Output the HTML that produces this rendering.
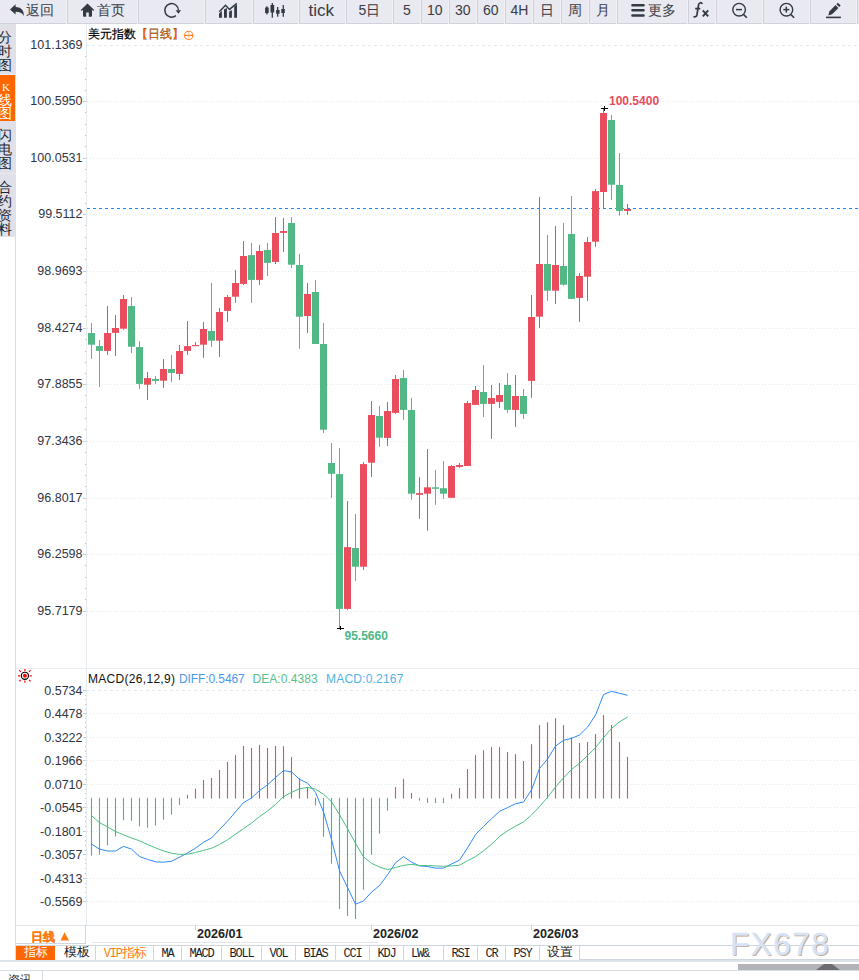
<!DOCTYPE html>
<html><head><meta charset="utf-8">
<style>
*{margin:0;padding:0;box-sizing:border-box}
html,body{width:859px;height:980px;overflow:hidden;background:#fff;font-family:"Liberation Sans",sans-serif;color:#333}
#tb{position:absolute;left:0;top:0;width:859px;height:24px;background:#fff}
.b{position:absolute;top:0;height:24px;background:#e9e9f1;border-bottom:1px solid #d2d2da;border-left:1px solid #d3d3db;color:#3a3c44;font-size:13px;line-height:22px;text-align:center;white-space:nowrap}
.tl{position:absolute;top:0;line-height:21px;color:#3a3c44;white-space:nowrap}
#sb{position:absolute;left:0;top:24px;width:16px;height:213px;background:#dfe0e8;overflow:hidden}
.si{position:absolute;left:0;width:15px;font-size:14px;line-height:14px;color:#1d2530}
.si span{display:block;margin-left:-2px;width:14px;text-align:center}
svg#ch{position:absolute;left:0;top:0}
.ax{font-size:12.5px;text-anchor:end;fill:#2f3546}
.hl{font-size:12px;font-weight:bold}
.dt{font-size:12.6px;font-weight:bold;fill:#222}
#title{position:absolute;left:88px;top:27px;font-size:12px;line-height:14px;color:#000;-webkit-text-stroke:0.2px #000;white-space:nowrap}
.mt{position:absolute;top:672px;font-size:12px;line-height:14px;white-space:nowrap;color:#111}
#bt{position:absolute;left:16px;top:945px;height:16px;width:843px}
.t{position:absolute;top:0;height:16px;overflow:hidden;border-right:1px solid #cfd6de;border-bottom:1px solid #cfd6de;text-align:center;color:#222;white-space:nowrap}
.mo{font-family:"Liberation Mono",monospace;font-size:12px;letter-spacing:-1.2px;line-height:19px;color:#1a1f2a}
.cj{font-size:12.5px;line-height:15px}
</style></head><body>
<div id="tb">
<svg width="859" height="24" style="position:absolute;left:0;top:0" viewBox="0 0 859 24">
<rect x="0" y="0" width="859" height="23" fill="#e9e9f1"/>
<rect x="0" y="23" width="859" height="1" fill="#d1d1d9"/>
<rect x="66" y="0" width="1" height="24" fill="#f1f1f5"/>
<rect x="67" y="0" width="1" height="24" fill="#d0d0d8"/>
<rect x="137" y="0" width="1" height="24" fill="#f1f1f5"/>
<rect x="138" y="0" width="1" height="24" fill="#d0d0d8"/>
<rect x="204" y="0" width="1" height="24" fill="#f1f1f5"/>
<rect x="205" y="0" width="1" height="24" fill="#d0d0d8"/>
<rect x="252" y="0" width="1" height="24" fill="#f1f1f5"/>
<rect x="253" y="0" width="1" height="24" fill="#d0d0d8"/>
<rect x="298" y="0" width="1" height="24" fill="#f1f1f5"/>
<rect x="299" y="0" width="1" height="24" fill="#d0d0d8"/>
<rect x="345" y="0" width="1" height="24" fill="#f1f1f5"/>
<rect x="346" y="0" width="1" height="24" fill="#d0d0d8"/>
<rect x="392" y="0" width="1" height="24" fill="#f1f1f5"/>
<rect x="393" y="0" width="1" height="24" fill="#d0d0d8"/>
<rect x="420" y="0" width="1" height="24" fill="#f1f1f5"/>
<rect x="421" y="0" width="1" height="24" fill="#d0d0d8"/>
<rect x="448" y="0" width="1" height="24" fill="#f1f1f5"/>
<rect x="449" y="0" width="1" height="24" fill="#d0d0d8"/>
<rect x="476" y="0" width="1" height="24" fill="#f1f1f5"/>
<rect x="477" y="0" width="1" height="24" fill="#d0d0d8"/>
<rect x="504" y="0" width="1" height="24" fill="#f1f1f5"/>
<rect x="505" y="0" width="1" height="24" fill="#d0d0d8"/>
<rect x="532" y="0" width="1" height="24" fill="#f1f1f5"/>
<rect x="533" y="0" width="1" height="24" fill="#d0d0d8"/>
<rect x="560" y="0" width="1" height="24" fill="#f1f1f5"/>
<rect x="561" y="0" width="1" height="24" fill="#d0d0d8"/>
<rect x="588" y="0" width="1" height="24" fill="#f1f1f5"/>
<rect x="589" y="0" width="1" height="24" fill="#d0d0d8"/>
<rect x="616" y="0" width="1" height="24" fill="#f1f1f5"/>
<rect x="617" y="0" width="1" height="24" fill="#d0d0d8"/>
<rect x="687" y="0" width="1" height="24" fill="#f1f1f5"/>
<rect x="688" y="0" width="1" height="24" fill="#d0d0d8"/>
<rect x="715" y="0" width="1" height="24" fill="#f1f1f5"/>
<rect x="716" y="0" width="1" height="24" fill="#d0d0d8"/>
<rect x="762" y="0" width="1" height="24" fill="#f1f1f5"/>
<rect x="763" y="0" width="1" height="24" fill="#d0d0d8"/>
<rect x="809" y="0" width="1" height="24" fill="#f1f1f5"/>
<rect x="810" y="0" width="1" height="24" fill="#d0d0d8"/>
<rect x="856" y="0" width="1" height="24" fill="#f1f1f5"/>
<rect x="857" y="0" width="1" height="24" fill="#d0d0d8"/>
<path d="M10 9.4 L15.6 4.2 V7.1 C20.5 7.1 24.2 10 23.8 16 C22.3 12.8 19.8 11.7 15.6 11.7 V14.6 Z" fill="#333a44"/>
<path d="M87.5 3.6 L94.2 10 L93.3 10.9 L92 9.7 V15.8 Q92 16.8 91 16.8 H88.8 V12.6 H86.2 V16.8 H84 Q83 16.8 83 15.8 V9.7 L81.7 10.9 L80.8 10 Z" fill="#333a44"/>
<path d="M178.4 10.3 A6.8 6.8 0 1 0 175.9 15.6" fill="none" stroke="#333a44" stroke-width="1.5"/>
<path d="M175.6 10.2 H181.1 L178.4 13.8 Z" fill="#333a44"/>
<path d="M219 13.6 L221.9 11 V17.8 H219 Z M224 9.5 L226.9 8 V17.8 H224 Z M229.1 11.7 L231.9 10 V17.8 H229.1 Z M234.2 6.6 L237 4.4 V17.8 H234.2 Z" fill="#333a44"/>
<path d="M219.3 11.7 L225.5 5.3 L229.5 9.4 L236.8 3.3" fill="none" stroke="#333a44" stroke-width="1.5"/>
<path d="M266.9 6.2V14.4M272.3 3.1V17.8M277.7 7V16.8M283.3 5V16.8" stroke="#333a44" stroke-width="1.3"/>
<path d="M265.1 7.6h3.6v5.4h-3.6zM270.5 5h3.7v7.6h-3.7zM276.1 10h3.5v3.8h-3.5zM281.3 9.1h3.5v3.8h-3.5z" fill="#333a44"/>
<path d="M632.4 5.2H643.6M632.4 10.3H643.6M632.4 15.5H643.6" stroke="#333a44" stroke-width="2.4" stroke-linecap="round"/>
<path d="M702.2 4 C701.6 2.3 699.3 2.1 698.6 4.6 L696.9 15 C696.5 16.9 694.6 17.2 693.5 16.3 M695.2 8.6 H700.3" fill="none" stroke="#333a44" stroke-width="1.7"/>
<path d="M702.8 10.3 L708.2 16.4 M708.2 10.3 L702.8 16.4" stroke="#333a44" stroke-width="1.9"/>
<circle cx="739.1" cy="9.7" r="6.3" fill="none" stroke="#333a44" stroke-width="1.4"/>
<path d="M736.0 9.6H742.0" stroke="#333a44" stroke-width="1.5"/>
<path d="M743.7 14.6L746.8000000000001 17.7" stroke="#333a44" stroke-width="1.6"/>
<circle cx="786.4" cy="9.7" r="6.3" fill="none" stroke="#333a44" stroke-width="1.4"/>
<path d="M783.3 9.6H789.3" stroke="#333a44" stroke-width="1.5"/>
<path d="M786.3 6.6V12.6" stroke="#333a44" stroke-width="1.5"/>
<path d="M791.0 14.6L794.1 17.7" stroke="#333a44" stroke-width="1.6"/>
<path d="M828.3 15.4 L829.3 11.4 L835.6 5.1 L838.4 7.9 L832.1 14.2 Z" fill="#333a44"/>
<path d="M836.4 4.3 L837.9 2.8 L840.7 5.6 L839.2 7.1 Z" fill="#333a44"/>
<path d="M826 17.4H840.9" stroke="#333a44" stroke-width="1.6"/>
</svg>
<span class="tl" style="left:25.5px;font-size:14px;">返回</span>
<span class="tl" style="left:96.5px;font-size:14px;">首页</span>
<span class="tl" style="left:308.5px;font-size:17px;">tick</span>
<span class="tl" style="left:358.5px;font-size:14px;">5日</span>
<span class="tl" style="left:403px;font-size:14px;">5</span>
<span class="tl" style="left:427px;font-size:14px;">10</span>
<span class="tl" style="left:455px;font-size:14px;">30</span>
<span class="tl" style="left:483px;font-size:14px;">60</span>
<span class="tl" style="left:510.5px;font-size:14px;">4H</span>
<span class="tl" style="left:540px;font-size:14px;">日</span>
<span class="tl" style="left:567.5px;font-size:14px;">周</span>
<span class="tl" style="left:595.5px;font-size:14px;">月</span>
<span class="tl" style="left:647.5px;font-size:14px;">更多</span>
</div>
<div id="sb">
 <div class="si" style="top:6px"><span>分</span><span>时</span><span>图</span></div>
 <div style="position:absolute;left:0;top:50px;width:16px;height:1px;background:#e6eef8"></div>
 <div style="position:absolute;left:0;top:51px;width:15px;height:46px;background:#ff6600"></div>
 <div class="si" style="top:57px;color:#fff;line-height:13px"><span style="font-family:'Liberation Serif',serif;font-size:11px;margin-left:0;width:12px">K</span><span>线</span><span>图</span></div>
 <div style="position:absolute;left:0;top:149px;width:16px;height:1px;background:#e9eaf0"></div>
 <div class="si" style="top:104px"><span>闪</span><span>电</span><span>图</span></div>
 <div class="si" style="top:156px"><span>合</span><span>约</span><span>资</span><span>料</span></div>
</div>
<svg id="ch" width="859" height="980" viewBox="0 0 859 980">
<style>text{font-family:"Liberation Sans",sans-serif}</style>
<line x1="86" y1="45.5" x2="859" y2="45.5" stroke="#e0e8f0" stroke-dasharray="3 3"/>
<text x="82.5" y="49.1" class="ax">101.1369</text>
<line x1="85" y1="56.5" x2="86" y2="56.5" stroke="#b8bdc4"/>
<line x1="85" y1="68.5" x2="86" y2="68.5" stroke="#b8bdc4"/>
<line x1="85" y1="79.5" x2="86" y2="79.5" stroke="#b8bdc4"/>
<line x1="85" y1="90.5" x2="86" y2="90.5" stroke="#b8bdc4"/>
<line x1="87" y1="101.5" x2="859" y2="101.5" stroke="#e4e9ef" stroke-dasharray="1 2"/>
<line x1="83" y1="101.5" x2="86" y2="101.5" stroke="#c8ccd2"/>
<text x="82.5" y="105.1" class="ax">100.5950</text>
<line x1="85" y1="112.5" x2="86" y2="112.5" stroke="#b8bdc4"/>
<line x1="85" y1="124.5" x2="86" y2="124.5" stroke="#b8bdc4"/>
<line x1="85" y1="135.5" x2="86" y2="135.5" stroke="#b8bdc4"/>
<line x1="85" y1="146.5" x2="86" y2="146.5" stroke="#b8bdc4"/>
<line x1="87" y1="158.5" x2="859" y2="158.5" stroke="#e4e9ef" stroke-dasharray="1 2"/>
<line x1="83" y1="158.5" x2="86" y2="158.5" stroke="#c8ccd2"/>
<text x="82.5" y="162.1" class="ax">100.0531</text>
<line x1="85" y1="169.5" x2="86" y2="169.5" stroke="#b8bdc4"/>
<line x1="85" y1="181.5" x2="86" y2="181.5" stroke="#b8bdc4"/>
<line x1="85" y1="192.5" x2="86" y2="192.5" stroke="#b8bdc4"/>
<line x1="85" y1="203.5" x2="86" y2="203.5" stroke="#b8bdc4"/>
<line x1="87" y1="214.5" x2="859" y2="214.5" stroke="#e4e9ef" stroke-dasharray="1 2"/>
<line x1="83" y1="214.5" x2="86" y2="214.5" stroke="#c8ccd2"/>
<text x="82.5" y="218.1" class="ax">99.5112</text>
<line x1="85" y1="225.5" x2="86" y2="225.5" stroke="#b8bdc4"/>
<line x1="85" y1="237.5" x2="86" y2="237.5" stroke="#b8bdc4"/>
<line x1="85" y1="248.5" x2="86" y2="248.5" stroke="#b8bdc4"/>
<line x1="85" y1="259.5" x2="86" y2="259.5" stroke="#b8bdc4"/>
<line x1="87" y1="271.5" x2="859" y2="271.5" stroke="#e4e9ef" stroke-dasharray="1 2"/>
<line x1="83" y1="271.5" x2="86" y2="271.5" stroke="#c8ccd2"/>
<text x="82.5" y="275.1" class="ax">98.9693</text>
<line x1="85" y1="282.5" x2="86" y2="282.5" stroke="#b8bdc4"/>
<line x1="85" y1="294.5" x2="86" y2="294.5" stroke="#b8bdc4"/>
<line x1="85" y1="305.5" x2="86" y2="305.5" stroke="#b8bdc4"/>
<line x1="85" y1="316.5" x2="86" y2="316.5" stroke="#b8bdc4"/>
<line x1="87" y1="328.5" x2="859" y2="328.5" stroke="#e4e9ef" stroke-dasharray="1 2"/>
<line x1="83" y1="328.5" x2="86" y2="328.5" stroke="#c8ccd2"/>
<text x="82.5" y="332.1" class="ax">98.4274</text>
<line x1="85" y1="339.5" x2="86" y2="339.5" stroke="#b8bdc4"/>
<line x1="85" y1="351.5" x2="86" y2="351.5" stroke="#b8bdc4"/>
<line x1="85" y1="362.5" x2="86" y2="362.5" stroke="#b8bdc4"/>
<line x1="85" y1="373.5" x2="86" y2="373.5" stroke="#b8bdc4"/>
<line x1="87" y1="384.5" x2="859" y2="384.5" stroke="#e4e9ef" stroke-dasharray="1 2"/>
<line x1="83" y1="384.5" x2="86" y2="384.5" stroke="#c8ccd2"/>
<text x="82.5" y="388.1" class="ax">97.8855</text>
<line x1="85" y1="395.5" x2="86" y2="395.5" stroke="#b8bdc4"/>
<line x1="85" y1="407.5" x2="86" y2="407.5" stroke="#b8bdc4"/>
<line x1="85" y1="418.5" x2="86" y2="418.5" stroke="#b8bdc4"/>
<line x1="85" y1="429.5" x2="86" y2="429.5" stroke="#b8bdc4"/>
<line x1="87" y1="441.5" x2="859" y2="441.5" stroke="#e4e9ef" stroke-dasharray="1 2"/>
<line x1="83" y1="441.5" x2="86" y2="441.5" stroke="#c8ccd2"/>
<text x="82.5" y="445.1" class="ax">97.3436</text>
<line x1="85" y1="452.5" x2="86" y2="452.5" stroke="#b8bdc4"/>
<line x1="85" y1="464.5" x2="86" y2="464.5" stroke="#b8bdc4"/>
<line x1="85" y1="475.5" x2="86" y2="475.5" stroke="#b8bdc4"/>
<line x1="85" y1="486.5" x2="86" y2="486.5" stroke="#b8bdc4"/>
<line x1="87" y1="498.5" x2="859" y2="498.5" stroke="#e4e9ef" stroke-dasharray="1 2"/>
<line x1="83" y1="498.5" x2="86" y2="498.5" stroke="#c8ccd2"/>
<text x="82.5" y="502.1" class="ax">96.8017</text>
<line x1="85" y1="509.5" x2="86" y2="509.5" stroke="#b8bdc4"/>
<line x1="85" y1="521.5" x2="86" y2="521.5" stroke="#b8bdc4"/>
<line x1="85" y1="532.5" x2="86" y2="532.5" stroke="#b8bdc4"/>
<line x1="85" y1="543.5" x2="86" y2="543.5" stroke="#b8bdc4"/>
<line x1="87" y1="554.5" x2="859" y2="554.5" stroke="#e4e9ef" stroke-dasharray="1 2"/>
<line x1="83" y1="554.5" x2="86" y2="554.5" stroke="#c8ccd2"/>
<text x="82.5" y="558.1" class="ax">96.2598</text>
<line x1="85" y1="565.5" x2="86" y2="565.5" stroke="#b8bdc4"/>
<line x1="85" y1="577.5" x2="86" y2="577.5" stroke="#b8bdc4"/>
<line x1="85" y1="588.5" x2="86" y2="588.5" stroke="#b8bdc4"/>
<line x1="85" y1="599.5" x2="86" y2="599.5" stroke="#b8bdc4"/>
<line x1="87" y1="611.5" x2="859" y2="611.5" stroke="#e4e9ef" stroke-dasharray="1 2"/>
<line x1="83" y1="611.5" x2="86" y2="611.5" stroke="#c8ccd2"/>
<text x="82.5" y="615.1" class="ax">95.7179</text>
<line x1="86.5" y1="24" x2="86.5" y2="925" stroke="#e6ebf1"/>
<line x1="87" y1="208.5" x2="859" y2="208.5" stroke="#1e88ff" stroke-dasharray="3 3"/>
<rect x="91" y="323.1" width="1" height="35.8" fill="#52b886"/>
<rect x="88" y="333.0" width="7" height="11.7" fill="#52b886"/>
<rect x="99" y="340.0" width="1" height="46.9" fill="#52b886"/>
<rect x="96" y="346.1" width="7" height="4.8" fill="#52b886"/>
<rect x="107" y="306.0" width="1" height="48.9" fill="#e94d5e"/>
<rect x="104" y="333.0" width="7" height="17.9" fill="#e94d5e"/>
<rect x="115" y="315.0" width="1" height="40.9" fill="#e94d5e"/>
<rect x="112" y="328.0" width="7" height="4.9" fill="#e94d5e"/>
<rect x="123" y="295.0" width="1" height="34.7" fill="#e94d5e"/>
<rect x="120" y="299.0" width="7" height="29.7" fill="#e94d5e"/>
<rect x="131" y="297.0" width="1" height="55.9" fill="#52b886"/>
<rect x="128" y="306.0" width="7" height="40.7" fill="#52b886"/>
<rect x="139" y="341.0" width="1" height="47.9" fill="#52b886"/>
<rect x="136" y="347.1" width="7" height="36.8" fill="#52b886"/>
<rect x="147" y="372.0" width="1" height="27.9" fill="#e94d5e"/>
<rect x="144" y="378.1" width="7" height="6.6" fill="#e94d5e"/>
<rect x="155" y="375.9" width="1" height="8.0" fill="#52b886"/>
<rect x="152" y="379.0" width="7" height="1.9" fill="#52b886"/>
<rect x="163" y="359.1" width="1" height="28.8" fill="#e94d5e"/>
<rect x="160" y="369.0" width="7" height="11.7" fill="#e94d5e"/>
<rect x="171" y="355.1" width="1" height="26.8" fill="#52b886"/>
<rect x="168" y="369.0" width="7" height="3.9" fill="#52b886"/>
<rect x="179" y="345.0" width="1" height="34.9" fill="#e94d5e"/>
<rect x="176" y="351.0" width="7" height="22.9" fill="#e94d5e"/>
<rect x="187" y="321.0" width="1" height="33.9" fill="#e94d5e"/>
<rect x="184" y="346.1" width="7" height="4.8" fill="#e94d5e"/>
<rect x="195" y="342.0" width="1" height="3.9" fill="#e94d5e"/>
<rect x="192" y="345.0" width="7" height="1.2" fill="#e94d5e"/>
<rect x="203" y="322.0" width="1" height="35.9" fill="#e94d5e"/>
<rect x="200" y="329.0" width="7" height="15.7" fill="#e94d5e"/>
<rect x="211" y="283.0" width="1" height="63.9" fill="#52b886"/>
<rect x="208" y="331.0" width="7" height="9.7" fill="#52b886"/>
<rect x="219" y="308.0" width="1" height="48.9" fill="#e94d5e"/>
<rect x="216" y="312.0" width="7" height="28.7" fill="#e94d5e"/>
<rect x="227" y="295.0" width="1" height="27.0" fill="#e94d5e"/>
<rect x="224" y="297.0" width="7" height="13.9" fill="#e94d5e"/>
<rect x="235" y="270.0" width="1" height="32.9" fill="#e94d5e"/>
<rect x="232" y="283.0" width="7" height="13.7" fill="#e94d5e"/>
<rect x="243" y="241.0" width="1" height="43.9" fill="#e94d5e"/>
<rect x="240" y="256.0" width="7" height="27.9" fill="#e94d5e"/>
<rect x="251" y="243.0" width="1" height="59.9" fill="#52b886"/>
<rect x="248" y="255.1" width="7" height="24.8" fill="#52b886"/>
<rect x="259" y="245.0" width="1" height="39.9" fill="#e94d5e"/>
<rect x="256" y="251.0" width="7" height="28.9" fill="#e94d5e"/>
<rect x="267" y="243.0" width="1" height="33.0" fill="#52b886"/>
<rect x="264" y="250.0" width="7" height="12.9" fill="#52b886"/>
<rect x="275" y="217.0" width="1" height="47.0" fill="#e94d5e"/>
<rect x="272" y="233.0" width="7" height="28.9" fill="#e94d5e"/>
<rect x="283" y="218.0" width="1" height="34.0" fill="#e94d5e"/>
<rect x="280" y="231.0" width="7" height="1.9" fill="#e94d5e"/>
<rect x="291" y="217.0" width="1" height="51.0" fill="#52b886"/>
<rect x="288" y="223.0" width="7" height="41.7" fill="#52b886"/>
<rect x="299" y="254.0" width="1" height="94.7" fill="#52b886"/>
<rect x="296" y="265.0" width="7" height="51.7" fill="#52b886"/>
<rect x="307" y="283.0" width="1" height="49.9" fill="#e94d5e"/>
<rect x="304" y="294.0" width="7" height="22.0" fill="#e94d5e"/>
<rect x="315" y="280.0" width="1" height="64.0" fill="#52b886"/>
<rect x="312" y="292.0" width="7" height="52.0" fill="#52b886"/>
<rect x="323" y="323.0" width="1" height="109.9" fill="#52b886"/>
<rect x="320" y="344.0" width="7" height="85.7" fill="#52b886"/>
<rect x="331" y="443.0" width="1" height="54.9" fill="#52b886"/>
<rect x="328" y="463.0" width="7" height="10.8" fill="#52b886"/>
<rect x="339" y="448.0" width="1" height="180.7" fill="#52b886"/>
<rect x="336" y="474.1" width="7" height="134.8" fill="#52b886"/>
<rect x="347" y="501.1" width="1" height="108.7" fill="#e94d5e"/>
<rect x="344" y="547.1" width="7" height="61.8" fill="#e94d5e"/>
<rect x="355" y="514.0" width="1" height="66.9" fill="#52b886"/>
<rect x="352" y="548.0" width="7" height="18.7" fill="#52b886"/>
<rect x="363" y="462.0" width="1" height="107.9" fill="#e94d5e"/>
<rect x="360" y="464.1" width="7" height="102.6" fill="#e94d5e"/>
<rect x="371" y="401.0" width="1" height="76.0" fill="#e94d5e"/>
<rect x="368" y="415.0" width="7" height="47.7" fill="#e94d5e"/>
<rect x="379" y="406.0" width="1" height="40.7" fill="#52b886"/>
<rect x="376" y="416.0" width="7" height="21.7" fill="#52b886"/>
<rect x="387" y="402.0" width="1" height="43.9" fill="#e94d5e"/>
<rect x="384" y="411.0" width="7" height="26.9" fill="#e94d5e"/>
<rect x="395" y="375.0" width="1" height="38.9" fill="#e94d5e"/>
<rect x="392" y="379.0" width="7" height="33.9" fill="#e94d5e"/>
<rect x="403" y="370.0" width="1" height="49.9" fill="#52b886"/>
<rect x="400" y="378.0" width="7" height="31.9" fill="#52b886"/>
<rect x="411" y="398.0" width="1" height="101.9" fill="#52b886"/>
<rect x="408" y="410.0" width="7" height="83.7" fill="#52b886"/>
<rect x="419" y="477.2" width="1" height="41.7" fill="#e94d5e"/>
<rect x="416" y="493.1" width="7" height="1.7" fill="#e94d5e"/>
<rect x="427" y="449.0" width="1" height="81.8" fill="#e94d5e"/>
<rect x="424" y="487.3" width="7" height="6.4" fill="#e94d5e"/>
<rect x="435" y="470.0" width="1" height="34.8" fill="#52b886"/>
<rect x="432" y="487.3" width="7" height="1.5" fill="#52b886"/>
<rect x="443" y="461.0" width="1" height="37.8" fill="#52b886"/>
<rect x="440" y="488.2" width="7" height="5.5" fill="#52b886"/>
<rect x="451" y="465.0" width="1" height="32.8" fill="#e94d5e"/>
<rect x="448" y="466.0" width="7" height="31.8" fill="#e94d5e"/>
<rect x="459" y="463.0" width="1" height="4.9" fill="#e94d5e"/>
<rect x="456" y="465.0" width="7" height="1.9" fill="#e94d5e"/>
<rect x="467" y="401.0" width="1" height="65.0" fill="#e94d5e"/>
<rect x="464" y="403.0" width="7" height="63.0" fill="#e94d5e"/>
<rect x="475" y="386.0" width="1" height="18.9" fill="#e94d5e"/>
<rect x="472" y="390.0" width="7" height="14.9" fill="#e94d5e"/>
<rect x="483" y="365.0" width="1" height="51.9" fill="#52b886"/>
<rect x="480" y="392.0" width="7" height="11.9" fill="#52b886"/>
<rect x="491" y="385.0" width="1" height="53.9" fill="#e94d5e"/>
<rect x="488" y="398.0" width="7" height="5.9" fill="#e94d5e"/>
<rect x="499" y="383.0" width="1" height="25.0" fill="#e94d5e"/>
<rect x="496" y="395.0" width="7" height="6.9" fill="#e94d5e"/>
<rect x="507" y="373.0" width="1" height="39.9" fill="#52b886"/>
<rect x="504" y="385.0" width="7" height="24.9" fill="#52b886"/>
<rect x="515" y="375.0" width="1" height="51.9" fill="#e94d5e"/>
<rect x="512" y="396.0" width="7" height="13.9" fill="#e94d5e"/>
<rect x="523" y="389.0" width="1" height="29.9" fill="#52b886"/>
<rect x="520" y="396.0" width="7" height="17.9" fill="#52b886"/>
<rect x="531" y="295.0" width="1" height="102.9" fill="#e94d5e"/>
<rect x="528" y="317.0" width="7" height="63.9" fill="#e94d5e"/>
<rect x="539" y="197.0" width="1" height="131.0" fill="#e94d5e"/>
<rect x="536" y="264.0" width="7" height="52.6" fill="#e94d5e"/>
<rect x="547" y="235.0" width="1" height="65.7" fill="#52b886"/>
<rect x="544" y="264.0" width="7" height="26.7" fill="#52b886"/>
<rect x="555" y="226.0" width="1" height="77.9" fill="#e94d5e"/>
<rect x="552" y="265.0" width="7" height="25.7" fill="#e94d5e"/>
<rect x="563" y="223.0" width="1" height="62.7" fill="#52b886"/>
<rect x="560" y="266.0" width="7" height="18.7" fill="#52b886"/>
<rect x="571" y="196.0" width="1" height="102.9" fill="#52b886"/>
<rect x="568" y="234.0" width="7" height="64.9" fill="#52b886"/>
<rect x="579" y="273.0" width="1" height="49.0" fill="#e94d5e"/>
<rect x="576" y="276.0" width="7" height="21.9" fill="#e94d5e"/>
<rect x="587" y="237.0" width="1" height="63.9" fill="#e94d5e"/>
<rect x="584" y="242.0" width="7" height="34.7" fill="#e94d5e"/>
<rect x="595" y="188.9" width="1" height="58.0" fill="#e94d5e"/>
<rect x="592" y="191.1" width="7" height="50.6" fill="#e94d5e"/>
<rect x="603" y="108.3" width="1" height="99.8" fill="#e94d5e"/>
<rect x="600" y="113.0" width="7" height="79.0" fill="#e94d5e"/>
<rect x="611" y="115.0" width="1" height="85.0" fill="#52b886"/>
<rect x="608" y="120.0" width="7" height="64.7" fill="#52b886"/>
<rect x="619" y="153.0" width="1" height="62.7" fill="#52b886"/>
<rect x="616" y="184.9" width="7" height="26.0" fill="#52b886"/>
<rect x="627" y="204.0" width="1" height="10.7" fill="#e94d5e"/>
<rect x="624" y="209.0" width="7" height="1.9" fill="#e94d5e"/>
<path d="M601 108.5H608M604.5 106V111" stroke="#000" stroke-width="1"/>
<path d="M337 628.5H344M340.5 626V630" stroke="#000" stroke-width="1"/>
<text x="609" y="104.5" class="hl" fill="#e84b5c">100.5400</text>
<text x="344.5" y="640" class="hl" fill="#4cb887">95.5660</text>
<line x1="16" y1="668.5" x2="859" y2="668.5" stroke="#ebeff3"/>
<line x1="86" y1="690.5" x2="859" y2="690.5" stroke="#e0e8f0" stroke-dasharray="3 3"/>
<line x1="83" y1="690.5" x2="86" y2="690.5" stroke="#c8ccd2"/>
<text x="82.5" y="694.5" class="ax">0.5734</text>
<line x1="85" y1="695.5" x2="86" y2="695.5" stroke="#c8ccd2"/>
<line x1="85" y1="699.5" x2="86" y2="699.5" stroke="#c8ccd2"/>
<line x1="85" y1="704.5" x2="86" y2="704.5" stroke="#c8ccd2"/>
<line x1="85" y1="709.5" x2="86" y2="709.5" stroke="#c8ccd2"/>
<line x1="87" y1="713.5" x2="859" y2="713.5" stroke="#e4e9ef" stroke-dasharray="1 2"/>
<line x1="83" y1="713.5" x2="86" y2="713.5" stroke="#c8ccd2"/>
<text x="82.5" y="717.5" class="ax">0.4478</text>
<line x1="85" y1="718.5" x2="86" y2="718.5" stroke="#c8ccd2"/>
<line x1="85" y1="722.5" x2="86" y2="722.5" stroke="#c8ccd2"/>
<line x1="85" y1="727.5" x2="86" y2="727.5" stroke="#c8ccd2"/>
<line x1="85" y1="732.5" x2="86" y2="732.5" stroke="#c8ccd2"/>
<line x1="87" y1="737.5" x2="859" y2="737.5" stroke="#e4e9ef" stroke-dasharray="1 2"/>
<line x1="83" y1="737.5" x2="86" y2="737.5" stroke="#c8ccd2"/>
<text x="82.5" y="741.5" class="ax">0.3222</text>
<line x1="85" y1="742.5" x2="86" y2="742.5" stroke="#c8ccd2"/>
<line x1="85" y1="746.5" x2="86" y2="746.5" stroke="#c8ccd2"/>
<line x1="85" y1="751.5" x2="86" y2="751.5" stroke="#c8ccd2"/>
<line x1="85" y1="756.5" x2="86" y2="756.5" stroke="#c8ccd2"/>
<line x1="87" y1="760.5" x2="859" y2="760.5" stroke="#e4e9ef" stroke-dasharray="1 2"/>
<line x1="83" y1="760.5" x2="86" y2="760.5" stroke="#c8ccd2"/>
<text x="82.5" y="764.5" class="ax">0.1966</text>
<line x1="85" y1="765.5" x2="86" y2="765.5" stroke="#c8ccd2"/>
<line x1="85" y1="769.5" x2="86" y2="769.5" stroke="#c8ccd2"/>
<line x1="85" y1="774.5" x2="86" y2="774.5" stroke="#c8ccd2"/>
<line x1="85" y1="779.5" x2="86" y2="779.5" stroke="#c8ccd2"/>
<line x1="87" y1="784.5" x2="859" y2="784.5" stroke="#e4e9ef" stroke-dasharray="1 2"/>
<line x1="83" y1="784.5" x2="86" y2="784.5" stroke="#c8ccd2"/>
<text x="82.5" y="788.5" class="ax">0.0710</text>
<line x1="85" y1="789.5" x2="86" y2="789.5" stroke="#c8ccd2"/>
<line x1="85" y1="793.5" x2="86" y2="793.5" stroke="#c8ccd2"/>
<line x1="85" y1="798.5" x2="86" y2="798.5" stroke="#c8ccd2"/>
<line x1="85" y1="803.5" x2="86" y2="803.5" stroke="#c8ccd2"/>
<line x1="87" y1="807.5" x2="859" y2="807.5" stroke="#e4e9ef" stroke-dasharray="1 2"/>
<line x1="83" y1="807.5" x2="86" y2="807.5" stroke="#c8ccd2"/>
<text x="82.5" y="811.5" class="ax">-0.0545</text>
<line x1="85" y1="812.5" x2="86" y2="812.5" stroke="#c8ccd2"/>
<line x1="85" y1="816.5" x2="86" y2="816.5" stroke="#c8ccd2"/>
<line x1="85" y1="821.5" x2="86" y2="821.5" stroke="#c8ccd2"/>
<line x1="85" y1="826.5" x2="86" y2="826.5" stroke="#c8ccd2"/>
<line x1="87" y1="831.5" x2="859" y2="831.5" stroke="#e4e9ef" stroke-dasharray="1 2"/>
<line x1="83" y1="831.5" x2="86" y2="831.5" stroke="#c8ccd2"/>
<text x="82.5" y="835.5" class="ax">-0.1801</text>
<line x1="85" y1="836.5" x2="86" y2="836.5" stroke="#c8ccd2"/>
<line x1="85" y1="840.5" x2="86" y2="840.5" stroke="#c8ccd2"/>
<line x1="85" y1="845.5" x2="86" y2="845.5" stroke="#c8ccd2"/>
<line x1="85" y1="850.5" x2="86" y2="850.5" stroke="#c8ccd2"/>
<line x1="87" y1="854.5" x2="859" y2="854.5" stroke="#e4e9ef" stroke-dasharray="1 2"/>
<line x1="83" y1="854.5" x2="86" y2="854.5" stroke="#c8ccd2"/>
<text x="82.5" y="858.5" class="ax">-0.3057</text>
<line x1="85" y1="859.5" x2="86" y2="859.5" stroke="#c8ccd2"/>
<line x1="85" y1="863.5" x2="86" y2="863.5" stroke="#c8ccd2"/>
<line x1="85" y1="868.5" x2="86" y2="868.5" stroke="#c8ccd2"/>
<line x1="85" y1="873.5" x2="86" y2="873.5" stroke="#c8ccd2"/>
<line x1="87" y1="878.5" x2="859" y2="878.5" stroke="#e4e9ef" stroke-dasharray="1 2"/>
<line x1="83" y1="878.5" x2="86" y2="878.5" stroke="#c8ccd2"/>
<text x="82.5" y="882.5" class="ax">-0.4313</text>
<line x1="85" y1="883.5" x2="86" y2="883.5" stroke="#c8ccd2"/>
<line x1="85" y1="887.5" x2="86" y2="887.5" stroke="#c8ccd2"/>
<line x1="85" y1="892.5" x2="86" y2="892.5" stroke="#c8ccd2"/>
<line x1="85" y1="897.5" x2="86" y2="897.5" stroke="#c8ccd2"/>
<line x1="87" y1="901.5" x2="859" y2="901.5" stroke="#e4e9ef" stroke-dasharray="1 2"/>
<line x1="83" y1="901.5" x2="86" y2="901.5" stroke="#c8ccd2"/>
<text x="82.5" y="905.5" class="ax">-0.5569</text>
<line x1="91.5" y1="797.9" x2="91.5" y2="855.7" stroke="#4db381" stroke-width="1.1"/>
<line x1="99.5" y1="797.9" x2="99.5" y2="854.7" stroke="#4db381" stroke-width="1.1"/>
<line x1="107.5" y1="797.9" x2="107.5" y2="845.4" stroke="#4db381" stroke-width="1.1"/>
<line x1="115.5" y1="797.9" x2="115.5" y2="836.5" stroke="#4db381" stroke-width="1.1"/>
<line x1="123.5" y1="797.9" x2="123.5" y2="820.3" stroke="#4db381" stroke-width="1.1"/>
<line x1="131.5" y1="797.9" x2="131.5" y2="820.7" stroke="#4db381" stroke-width="1.1"/>
<line x1="139.5" y1="797.9" x2="139.5" y2="826.4" stroke="#4db381" stroke-width="1.1"/>
<line x1="147.5" y1="797.9" x2="147.5" y2="827.7" stroke="#4db381" stroke-width="1.1"/>
<line x1="155.5" y1="797.9" x2="155.5" y2="825.5" stroke="#4db381" stroke-width="1.1"/>
<line x1="163.5" y1="797.9" x2="163.5" y2="819.7" stroke="#4db381" stroke-width="1.1"/>
<line x1="171.5" y1="797.9" x2="171.5" y2="814.7" stroke="#4db381" stroke-width="1.1"/>
<line x1="179.5" y1="797.9" x2="179.5" y2="804.8" stroke="#4db381" stroke-width="1.1"/>
<line x1="187.5" y1="798.6" x2="187.5" y2="794.8" stroke="#e84a5c" stroke-width="1.1"/>
<line x1="195.5" y1="798.6" x2="195.5" y2="788.6" stroke="#e84a5c" stroke-width="1.1"/>
<line x1="203.5" y1="798.6" x2="203.5" y2="780.0" stroke="#e84a5c" stroke-width="1.1"/>
<line x1="211.5" y1="798.6" x2="211.5" y2="778.0" stroke="#e84a5c" stroke-width="1.1"/>
<line x1="219.5" y1="798.6" x2="219.5" y2="770.0" stroke="#e84a5c" stroke-width="1.1"/>
<line x1="227.5" y1="798.6" x2="227.5" y2="761.9" stroke="#e84a5c" stroke-width="1.1"/>
<line x1="235.5" y1="798.6" x2="235.5" y2="755.0" stroke="#e84a5c" stroke-width="1.1"/>
<line x1="243.5" y1="798.6" x2="243.5" y2="746.0" stroke="#e84a5c" stroke-width="1.1"/>
<line x1="251.5" y1="798.6" x2="251.5" y2="748.0" stroke="#e84a5c" stroke-width="1.1"/>
<line x1="259.5" y1="798.6" x2="259.5" y2="744.9" stroke="#e84a5c" stroke-width="1.1"/>
<line x1="267.5" y1="798.6" x2="267.5" y2="748.0" stroke="#e84a5c" stroke-width="1.1"/>
<line x1="275.5" y1="798.6" x2="275.5" y2="746.0" stroke="#e84a5c" stroke-width="1.1"/>
<line x1="283.5" y1="798.6" x2="283.5" y2="746.2" stroke="#e84a5c" stroke-width="1.1"/>
<line x1="291.5" y1="798.6" x2="291.5" y2="757.0" stroke="#e84a5c" stroke-width="1.1"/>
<line x1="299.5" y1="798.6" x2="299.5" y2="778.4" stroke="#e84a5c" stroke-width="1.1"/>
<line x1="307.5" y1="798.6" x2="307.5" y2="787.2" stroke="#e84a5c" stroke-width="1.1"/>
<line x1="315.5" y1="797.9" x2="315.5" y2="805.4" stroke="#4db381" stroke-width="1.1"/>
<line x1="323.5" y1="797.9" x2="323.5" y2="836.7" stroke="#4db381" stroke-width="1.1"/>
<line x1="331.5" y1="797.9" x2="331.5" y2="863.7" stroke="#4db381" stroke-width="1.1"/>
<line x1="339.5" y1="797.9" x2="339.5" y2="908.9" stroke="#4db381" stroke-width="1.1"/>
<line x1="347.5" y1="797.9" x2="347.5" y2="915.9" stroke="#4db381" stroke-width="1.1"/>
<line x1="355.5" y1="797.9" x2="355.5" y2="919.0" stroke="#4db381" stroke-width="1.1"/>
<line x1="363.5" y1="797.9" x2="363.5" y2="889.8" stroke="#4db381" stroke-width="1.1"/>
<line x1="371.5" y1="797.9" x2="371.5" y2="854.7" stroke="#4db381" stroke-width="1.1"/>
<line x1="379.5" y1="797.9" x2="379.5" y2="833.7" stroke="#4db381" stroke-width="1.1"/>
<line x1="387.5" y1="797.9" x2="387.5" y2="810.6" stroke="#4db381" stroke-width="1.1"/>
<line x1="395.5" y1="798.6" x2="395.5" y2="787.1" stroke="#e84a5c" stroke-width="1.1"/>
<line x1="403.5" y1="798.6" x2="403.5" y2="778.9" stroke="#e84a5c" stroke-width="1.1"/>
<line x1="411.5" y1="798.6" x2="411.5" y2="792.9" stroke="#e84a5c" stroke-width="1.1"/>
<line x1="419.5" y1="797.9" x2="419.5" y2="800.7" stroke="#4db381" stroke-width="1.1"/>
<line x1="427.5" y1="797.9" x2="427.5" y2="803.0" stroke="#4db381" stroke-width="1.1"/>
<line x1="435.5" y1="797.9" x2="435.5" y2="803.0" stroke="#4db381" stroke-width="1.1"/>
<line x1="443.5" y1="797.9" x2="443.5" y2="803.0" stroke="#4db381" stroke-width="1.1"/>
<line x1="451.5" y1="798.6" x2="451.5" y2="793.8" stroke="#e84a5c" stroke-width="1.1"/>
<line x1="459.5" y1="798.6" x2="459.5" y2="788.1" stroke="#e84a5c" stroke-width="1.1"/>
<line x1="467.5" y1="798.6" x2="467.5" y2="769.0" stroke="#e84a5c" stroke-width="1.1"/>
<line x1="475.5" y1="798.6" x2="475.5" y2="755.0" stroke="#e84a5c" stroke-width="1.1"/>
<line x1="483.5" y1="798.6" x2="483.5" y2="750.2" stroke="#e84a5c" stroke-width="1.1"/>
<line x1="491.5" y1="798.6" x2="491.5" y2="747.0" stroke="#e84a5c" stroke-width="1.1"/>
<line x1="499.5" y1="798.6" x2="499.5" y2="747.0" stroke="#e84a5c" stroke-width="1.1"/>
<line x1="507.5" y1="798.6" x2="507.5" y2="752.1" stroke="#e84a5c" stroke-width="1.1"/>
<line x1="515.5" y1="798.6" x2="515.5" y2="754.1" stroke="#e84a5c" stroke-width="1.1"/>
<line x1="523.5" y1="798.6" x2="523.5" y2="761.0" stroke="#e84a5c" stroke-width="1.1"/>
<line x1="531.5" y1="798.6" x2="531.5" y2="744.2" stroke="#e84a5c" stroke-width="1.1"/>
<line x1="539.5" y1="798.6" x2="539.5" y2="725.1" stroke="#e84a5c" stroke-width="1.1"/>
<line x1="547.5" y1="798.6" x2="547.5" y2="722.3" stroke="#e84a5c" stroke-width="1.1"/>
<line x1="555.5" y1="798.6" x2="555.5" y2="718.2" stroke="#e84a5c" stroke-width="1.1"/>
<line x1="563.5" y1="798.6" x2="563.5" y2="725.1" stroke="#e84a5c" stroke-width="1.1"/>
<line x1="571.5" y1="798.6" x2="571.5" y2="737.3" stroke="#e84a5c" stroke-width="1.1"/>
<line x1="579.5" y1="798.6" x2="579.5" y2="743.0" stroke="#e84a5c" stroke-width="1.1"/>
<line x1="587.5" y1="798.6" x2="587.5" y2="741.9" stroke="#e84a5c" stroke-width="1.1"/>
<line x1="595.5" y1="798.6" x2="595.5" y2="734.0" stroke="#e84a5c" stroke-width="1.1"/>
<line x1="603.5" y1="798.6" x2="603.5" y2="715.1" stroke="#e84a5c" stroke-width="1.1"/>
<line x1="611.5" y1="798.6" x2="611.5" y2="725.1" stroke="#e84a5c" stroke-width="1.1"/>
<line x1="619.5" y1="798.6" x2="619.5" y2="741.9" stroke="#e84a5c" stroke-width="1.1"/>
<line x1="627.5" y1="798.6" x2="627.5" y2="756.9" stroke="#e84a5c" stroke-width="1.1"/>
<polyline points="91.5,844.1 99.5,849.1 107.5,851.0 115.5,851.0 123.5,846.4 131.5,849.1 139.5,856.6 147.5,859.4 155.5,861.8 163.5,862.2 171.5,861.2 179.5,857.2 187.5,852.9 195.5,848.2 203.5,842.3 211.5,838.0 219.5,829.6 227.5,821.2 235.5,811.9 243.5,802.6 251.5,798.0 259.5,790.5 267.5,784.9 275.5,777.5 283.5,770.6 291.5,771.9 299.5,779.3 307.5,783.1 315.5,792.4 323.5,811.9 331.5,839.5 339.5,870.7 347.5,887.5 355.5,904.2 363.5,901.0 371.5,892.1 379.5,885.6 387.5,874.9 395.5,862.8 403.5,856.6 411.5,862.2 419.5,865.9 427.5,866.5 435.5,868.1 443.5,868.1 451.5,864.0 459.5,860.2 467.5,847.9 475.5,834.6 483.5,826.4 491.5,818.8 499.5,811.3 507.5,807.6 515.5,803.8 523.5,802.0 531.5,789.9 539.5,768.5 547.5,759.1 555.5,746.1 563.5,740.3 571.5,738.4 579.5,735.0 587.5,727.1 595.5,715.1 603.5,694.6 611.5,691.3 619.5,693.3 627.5,695.3" fill="none" stroke="#2f8af7" stroke-width="1" stroke-linejoin="round"/>
<polyline points="91.5,815.6 99.5,822.7 107.5,826.8 115.5,831.5 123.5,834.8 131.5,838.0 139.5,840.8 147.5,844.5 155.5,847.8 163.5,851.0 171.5,853.2 179.5,854.4 187.5,854.2 195.5,852.5 203.5,850.4 211.5,848.2 219.5,844.5 227.5,839.8 235.5,834.2 243.5,828.7 251.5,823.1 259.5,816.6 267.5,811.0 275.5,804.5 283.5,796.7 291.5,792.4 299.5,788.7 307.5,787.4 315.5,789.2 323.5,794.2 331.5,801.7 339.5,814.7 347.5,828.7 355.5,843.3 363.5,856.8 371.5,863.3 379.5,867.0 387.5,869.6 395.5,867.5 403.5,865.3 411.5,864.4 419.5,865.5 427.5,865.5 435.5,865.9 443.5,866.3 451.5,865.9 459.5,865.2 467.5,860.7 475.5,856.7 483.5,850.8 491.5,844.4 499.5,836.4 507.5,830.8 515.5,826.2 523.5,821.9 531.5,815.0 539.5,806.6 547.5,797.3 555.5,787.1 563.5,777.9 571.5,769.5 579.5,763.3 587.5,755.6 595.5,747.6 603.5,737.7 611.5,728.4 619.5,721.8 627.5,717.1" fill="none" stroke="#4cc081" stroke-width="1" stroke-linejoin="round"/>
<line x1="16" y1="925.5" x2="859" y2="925.5" stroke="#dfe4ea"/>
<line x1="195.5" y1="925" x2="195.5" y2="930" stroke="#cdd2d8"/>
<line x1="371.5" y1="925" x2="371.5" y2="930" stroke="#cdd2d8"/>
<line x1="531.5" y1="925" x2="531.5" y2="930" stroke="#cdd2d8"/>
<text x="197" y="938.3" class="dt">2026/01</text>
<text x="373" y="938.3" class="dt">2026/02</text>
<text x="533" y="938.3" class="dt">2026/03</text>
<line x1="92" y1="942.5" x2="378" y2="942.5" stroke="#e3e7ec"/>
<line x1="15.5" y1="237" x2="15.5" y2="961" stroke="#d5dce4"/>
</svg>
<div id="title">美元指数<span style="color:#ff6a00">【日线】</span></div>
<svg width="12" height="12" style="position:absolute;left:182px;top:30px" viewBox="0 0 12 12"><circle cx="6.7" cy="5.4" r="4.1" fill="none" stroke="#ff7a1a" stroke-width="1"/><path d="M2.6 5.4H10.8" stroke="#ff7a1a" stroke-width="1.2"/><path d="M6.7 1.3V9.5" stroke="#ffb070" stroke-width="0.7"/></svg>
<div class="mt" style="left:88px;color:#111;letter-spacing:0.3px">MACD(26,12,9)</div>
<div class="mt" id="m2" style="left:179px;color:#4a98ef;letter-spacing:-0.1px">DIFF:0.5467</div>
<div class="mt" id="m3" style="left:252.5px;color:#5ac08c;letter-spacing:0.05px">DEA:0.4383</div>
<div class="mt" id="m4" style="left:326px;color:#4fb3ea;letter-spacing:0.2px">MACD:0.2167</div>
<svg width="20" height="20" style="position:absolute;left:15px;top:666px" viewBox="15 666 20 20"><circle cx="24.9" cy="675.8" r="3.6" fill="none" stroke="#000" stroke-width="1.1"/><circle cx="24.9" cy="675.8" r="2" fill="#f00"/><path d="M24.9 669V671.2M24.9 680.6V682.8M18 675.8H20.2M29.6 675.8H31.8M19.2 670.2L20.8 671.8M30.6 670.2L29 671.8M19.2 681.4L20.8 679.8M30.6 681.4L29 679.8" stroke="#f00" stroke-width="1.2"/></svg>
<div style="position:absolute;left:16px;top:925px;width:70px;height:19px;border-right:1px solid #d0d7df;border-bottom:1px solid #cfd6de"></div>
<div style="position:absolute;left:30.5px;top:930.5px;color:#ff7b0f;font-size:12px;font-weight:bold;line-height:13px;-webkit-text-stroke:0.3px #ff7b0f">日线</div>
<svg width="10" height="9" style="position:absolute;left:60px;top:931.5px"><path d="M4.5 0.3 L9 8.5 H0.5 Z" fill="#ff7b0f"/></svg>
<div id="bt">
 <div class="t cj" style="left:0px;width:39px;background:#ff6600;color:#fff;border-right:none;font-size:12px">指标</div>
 <div class="t cj" style="left:39px;width:41px;"><span style="position:relative;left:2px">模板</span></div>
 <div class="t mo" style="left:80px;width:58px;color:#ff7b0f">VIP<span class=cj>指标</span></div>
 <div class="t mo" style="left:138px;width:28px;">MA</div>
 <div class="t mo" style="left:166px;width:40px;">MACD</div>
 <div class="t mo" style="left:206px;width:40px;">BOLL</div>
 <div class="t mo" style="left:246px;width:34px;">VOL</div>
 <div class="t mo" style="left:280px;width:40px;">BIAS</div>
 <div class="t mo" style="left:320px;width:34px;">CCI</div>
 <div class="t mo" style="left:354px;width:34px;">KDJ</div>
 <div class="t mo" style="left:388px;width:40px;"><span style="position:relative;left:-3.5px">LW&amp;</span></div>
 <div class="t mo" style="left:428px;width:34px;">RSI</div>
 <div class="t mo" style="left:462px;width:28px;">CR</div>
 <div class="t mo" style="left:490px;width:34px;">PSY</div>
 <div class="t cj" style="left:524px;width:40px;">设置</div>
 <div style="position:absolute;left:564px;top:0;width:279px;height:15px;border-bottom:1px solid #cfd6de"></div>
 <div style="position:absolute;left:0;top:0;width:843px;height:1px;background:#cfd6de"></div>
</div>
<div style="position:absolute;left:0;top:960px;width:859px;height:2px;background:#dde3ea"></div>
<div style="position:absolute;left:738px;top:964px;width:121px;height:6px;background:#b3b3ba"></div>
<svg width="24" height="6" style="position:absolute;left:816px;top:964px"><path d="M0 6 L8 0 H16 L24 6Z" fill="#6b6b70"/></svg>
<div style="position:absolute;left:0;top:970px;width:859px;height:1px;background:#d6dde5"></div>
<div style="position:absolute;left:42px;top:970px;width:1px;height:10px;background:#d6dde5"></div>
<div style="position:absolute;left:8px;top:973px;font-size:12px;line-height:14px;color:#333">资讯</div>
<div style="position:absolute;left:730px;top:927px;font-size:31.5px;line-height:34px;letter-spacing:1.5px;color:#d6e4f6;text-shadow:1px 1px 0 #c2a286;-webkit-text-stroke:0.4px #d6e4f6;font-family:'Liberation Sans',sans-serif">FX678</div>
</body></html>
